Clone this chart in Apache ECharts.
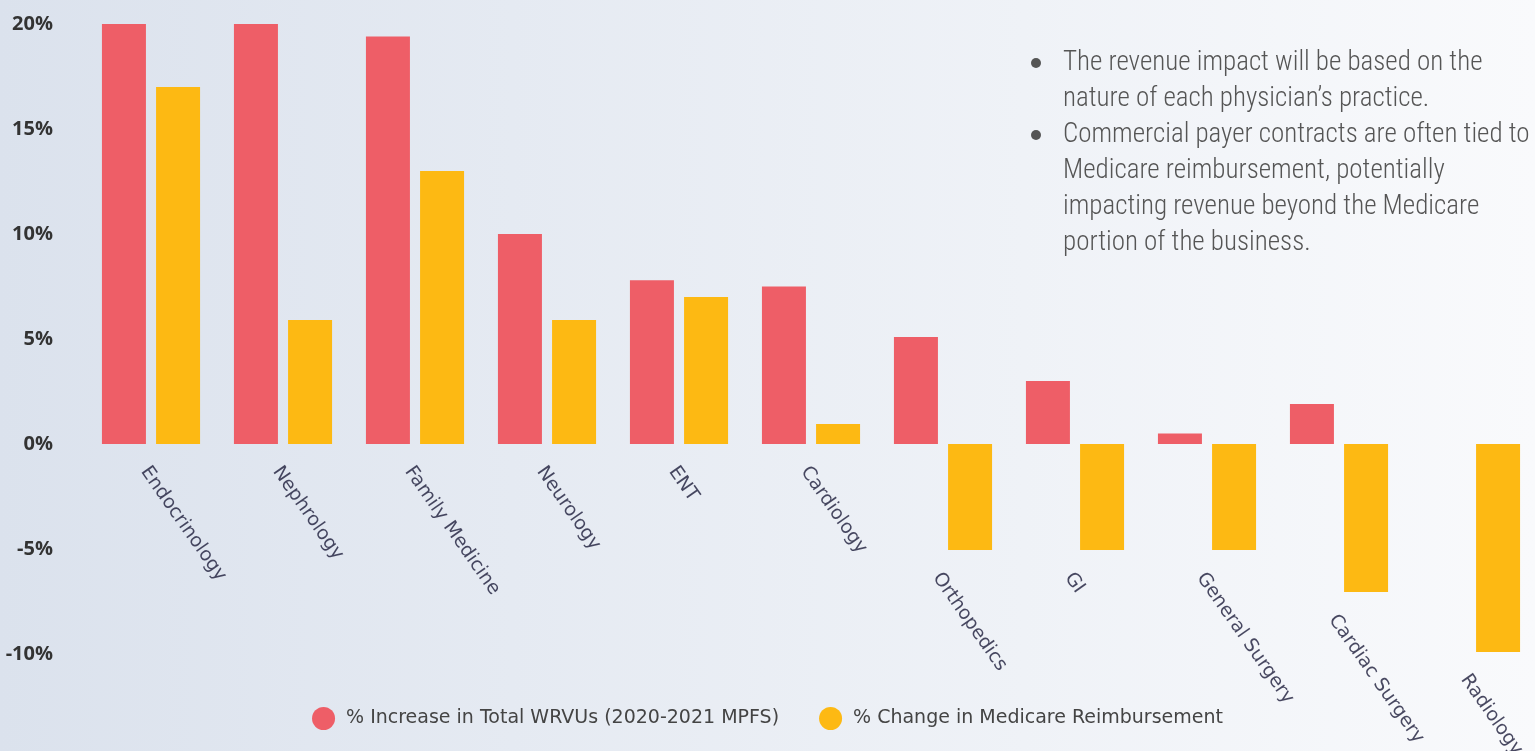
<!DOCTYPE html>
<html><head><meta charset="utf-8">
<script src="https://cdn.jsdelivr.net/npm/echarts@6/dist/echarts.min.js"></script>
<style>html,body{margin:0;padding:0;}#c{width:1535px;height:751px;}</style>
</head><body><div id="c"></div>
<script>
const categories = ['Endocrinology','Nephrology','Family Medicine','Neurology','ENT','Cardiology','Orthopedics','GI','General Surgery','Cardiac Surgery','Radiology'];
const wrvuIncrease = [20, 20, 19.4, 10, 7.8, 7.5, 5.1, 3, 0.5, 1.9, 0];
const medicareChange = [17, 5.9, 13, 5.9, 7, 0.95, -5.05, -5.05, -5.05, -7.05, -9.9];
const seriesNames = ['% Increase in Total WRVUs (2020-2021 MPFS)', '% Change in Medicare Reimbursement'];
const yTicks = {min: -10, max: 20, step: 5};
const notes = [
  ['The revenue impact will be based on the', 'nature of each physician\u2019s practice.'],
  ['Commercial payer contracts are often tied to', 'Medicare reimbursement, potentially', 'impacting revenue beyond the Medicare', 'portion of the business.']
];

// label anchors: below the lowest bar of each category (or at zero)
const labelAnchors = categories.map((c, i) => [c, Math.min(0, wrvuIncrease[i], medicareChange[i])]);

const chart = echarts.init(document.getElementById('c'));
const noteFont = '"Roboto Condensed","Liberation Sans Narrow","DejaVu Sans Condensed","Roboto",sans-serif';
const labelFont = '"DejaVu Sans", sans-serif';
const graphics = [];
let y = 63;
notes.forEach(block => {
  graphics.push({type:'circle', shape:{cx:1036, cy:y, r:5}, style:{fill:'#555'}});
  block.forEach(line => {
    graphics.push({type:'text', x:1063, y:y, style:{text:line, font:'300 27px ' + noteFont, fill:'#555', textVerticalAlign:'middle'}});
    y += 36;
  });
});

chart.setOption({
  backgroundColor: {type:'linear', x:0, y:0, x2:1, y2:0, colorStops:[{offset:0, color:'#dbe2ed'},{offset:1, color:'#f9fafc'}]},
  animation: false,
  grid: {left:85, right:-2, top:24, bottom:97, containLabel:false, outerBoundsMode:'none'},
  legend: {
    bottom: 16, left:'center', icon:'circle', itemWidth:23, itemHeight:23, itemGap:40,
    textStyle:{fontFamily:labelFont, fontSize:19, color:'#444', padding:[0,0,0,6]},
    data: seriesNames
  },
  xAxis: {
    type:'category', data: categories,
    axisLine:{show:false}, axisTick:{show:false},
    axisLabel:{show:false}
  },
  yAxis: {
    type:'value', min:yTicks.min, max:yTicks.max, interval:yTicks.step,
    splitLine:{show:false}, axisLine:{show:false}, axisTick:{show:false},
    axisLabel:{formatter:'{value}%', fontSize:20, fontWeight:'bold', color:'#333', margin:32, fontFamily:'"Open Sans", sans-serif'}
  },
  series: [
    {name: seriesNames[0], type:'bar', data: wrvuIncrease, barWidth:44, barGap:'23%', itemStyle:{color:'#ee5e67'}},
    {name: seriesNames[1], type:'bar', data: medicareChange, barWidth:44, barGap:'23%', itemStyle:{color:'#fdb913'}},
    {name: 'labels', type:'scatter', data: labelAnchors, symbolSize:1, itemStyle:{color:'rgba(0,0,0,0)'}, clip:false, silent:true,
      label:{show:true, formatter: p => p.name, position:[-6, 25], rotate:-55, align:'left', verticalAlign:'middle',
        fontSize:19, color:'#1c1b3a', fontFamily:labelFont}}
  ],
  graphic: graphics
});
</script></body></html>
